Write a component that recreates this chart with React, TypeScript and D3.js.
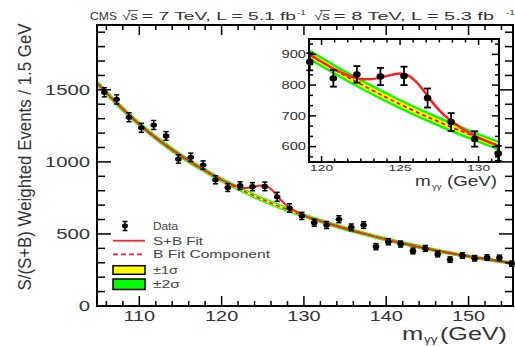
import React from 'react';
import * as d3 from 'd3';

// diphoton mass spectrum, 1.5 GeV bins
const massBins = [105.75, 107.25, 108.75, 110.25, 111.75, 113.25, 114.75, 116.25, 117.75, 119.25, 120.75, 122.25, 123.75, 125.25, 126.75, 128.25, 129.75, 131.25, 132.75, 134.25, 135.75, 137.25, 138.75, 140.25, 141.75, 143.25, 144.75, 146.25, 147.75, 149.25, 150.75, 152.25, 153.75, 155.25];
const events = [1483, 1434, 1310, 1237, 1256, 1180, 1020, 1032, 978, 876, 822, 835, 828, 830, 758, 680, 625, 578, 562, 602, 546, 562, 412, 446, 430, 382, 400, 361, 322, 350, 331, 336, 334, 294];
const eventErr = [32, 32, 31, 31, 31, 30, 29, 29, 29, 28, 27, 27, 28, 30, 31, 29, 25, 24, 24, 24, 23, 23, 21, 21, 21, 20, 20, 20, 19, 19, 19, 19, 19, 18];

// fit curves
const fitMass = [105, 107.5, 110, 112.5, 115, 117.5, 120, 122.5, 125, 127.5, 130, 132.5, 135, 137.5, 140, 142.5, 145, 147.5, 150, 152.5, 155, 155.5];
const bkgFit = [1540, 1393, 1262, 1146, 1045, 955, 875, 803, 738, 680, 628, 581, 538, 499, 462, 429, 398, 370, 345, 322, 300, 296];
const bkgSigma = [11, 10.5, 10, 9.8, 9.5, 9.2, 9, 8.8, 8.6, 8.4, 8.2, 8, 7.8, 7.6, 7.4, 7.2, 7, 6.8, 6.6, 6.4, 6.2, 6.2];
const sbMass = [105, 107.5, 110, 112.5, 115, 117.5, 120, 121, 122, 122.5, 123, 123.5, 124, 124.5, 125, 125.5, 126, 126.5, 127, 127.5, 128, 128.5, 129, 130, 132.5, 135, 137.5, 140, 142.5, 145, 147.5, 150, 152.5, 155, 155.5];
const sbFit = [1540, 1393, 1262, 1146, 1045, 955, 876, 847, 826, 820, 819, 822, 828, 834, 838, 832, 812, 782, 748, 718, 694, 675, 657, 629, 581, 538, 499, 462, 429, 398, 370, 345, 322, 300, 296];

const xTickLabels = [110, 120, 130, 140, 150];
const yTickLabels = [0, 500, 1000, 1500];
const insetXTickLabels = [120, 125, 130];
const insetYTickLabels = [600, 700, 800, 900];

const FONT = '"Liberation Sans", Arial, Helvetica, sans-serif';
const TXT = '#333';

const frame = { left: 97, right: 513, top: 25, bottom: 306 };
const inset = { left: 309, right: 499, top: 39, bottom: 162 };

const x = d3.scaleLinear().domain([104.86, 155.4]).range([frame.left, frame.right]);
const y = d3.scaleLinear().domain([0, 1950]).range([frame.bottom, frame.top]);
const xi = d3.scaleLinear().domain([119.2, 131.3]).range([inset.left, inset.right]);
const yi = d3.scaleLinear().domain([550, 950]).range([inset.bottom, inset.top]);

type Scale = d3.ScaleLinear<number, number>;

function Curves({ xs, ys, clip, sbWidth, bWidth }: { xs: Scale; ys: Scale; clip: string; sbWidth: number; bWidth: number }) {
  const pts = fitMass.map((m, i) => ({ m, b: bkgFit[i], s: bkgSigma[i] }));
  const band = (k: number) =>
    d3.area<{ m: number; b: number; s: number }>()
      .x(d => xs(d.m))
      .y0(d => ys(d.b - k * d.s))
      .y1(d => ys(d.b + k * d.s))
      .curve(d3.curveMonotoneX)(pts) || '';
  const bLine = d3.line<{ m: number; b: number }>()
    .x(d => xs(d.m)).y(d => ys(d.b))
    .curve(d3.curveMonotoneX)(pts) || '';
  const sbLine = d3.line<number>()
    .x(m => xs(m)).y((_, i) => ys(sbFit[i]))
    .curve(d3.curveMonotoneX)(sbMass) || '';
  return (
    <g clipPath={`url(#${clip})`}>
      <path d={band(2)} fill="#00ff00" />
      <path d={band(1)} fill="#ffff00" />
      <path d={bLine} fill="none" stroke="#ff0000" strokeWidth={bWidth} strokeDasharray="4,3" />
      <path d={sbLine} fill="none" stroke="#ff2020" strokeWidth={sbWidth} />
    </g>
  );
}

function DataPoints({ xs, ys, lo, hi, rx, ry, cap, sw }: { xs: Scale; ys: Scale; lo: number; hi: number; rx: number; ry: number; cap: number; sw: number }) {
  return (
    <g>
      {massBins.map((m, i) => {
        if (m < lo || m > hi) return null;
        const cx = xs(m);
        const cy = ys(events[i]);
        const t = ys(events[i] + eventErr[i]);
        const b = ys(events[i] - eventErr[i]);
        return (
          <g key={i} stroke="#000" strokeWidth={sw}>
            <line x1={cx} x2={cx} y1={t} y2={b} />
            <line x1={cx - cap} x2={cx + cap} y1={t} y2={t} />
            <line x1={cx - cap} x2={cx + cap} y1={b} y2={b} />
            <ellipse cx={cx} cy={cy} rx={rx} ry={ry} fill="#000" stroke="none" />
          </g>
        );
      })}
    </g>
  );
}

function Frame({ xs, ys, box, xMajor, xMinor, yMajor, yMinor, xLen, yLen, sw }: {
  xs: Scale; ys: Scale; box: { left: number; right: number; top: number; bottom: number };
  xMajor: number[]; xMinor: number[]; yMajor: number[]; yMinor: number[];
  xLen: [number, number]; yLen: [number, number]; sw: number;
}) {
  const lines: JSX.Element[] = [];
  const addX = (v: number, len: number, k: string) => {
    const px = xs(v);
    lines.push(<line key={'xb' + k} x1={px} x2={px} y1={box.bottom} y2={box.bottom - len} />);
    lines.push(<line key={'xt' + k} x1={px} x2={px} y1={box.top} y2={box.top + len} />);
  };
  const addY = (v: number, len: number, k: string) => {
    const py = ys(v);
    lines.push(<line key={'yl' + k} x1={box.left} x2={box.left + len} y1={py} y2={py} />);
    lines.push(<line key={'yr' + k} x1={box.right} x2={box.right - len} y1={py} y2={py} />);
  };
  xMajor.forEach((v, i) => addX(v, xLen[0], 'M' + i));
  xMinor.forEach((v, i) => addX(v, xLen[1], 'm' + i));
  yMajor.forEach((v, i) => addY(v, yLen[0], 'M' + i));
  yMinor.forEach((v, i) => addY(v, yLen[1], 'm' + i));
  return (
    <g stroke="#000" strokeWidth={sw * 0.75}>
      {lines}
      <rect x={box.left} y={box.top} width={box.right - box.left} height={box.bottom - box.top} fill="none" strokeWidth={sw} />
    </g>
  );
}

function SText({ x0, y0, sx, size, anchor = 'start', children }: { x0: number; y0: number; sx: number; size: number; anchor?: string; children: React.ReactNode }) {
  return (
    <text transform={`translate(${x0},${y0}) scale(${sx},1)`} fontSize={size} textAnchor={anchor} fill={TXT} fontFamily={FONT}>
      {children}
    </text>
  );
}

export default function App() {
  const inRange = (s: Scale) => (v: number) => v >= s.domain()[0] - 1e-6 && v <= s.domain()[1] + 1e-6;
  const xMinor = x.ticks(25).filter(v => !xTickLabels.includes(v));
  const yMinor = y.ticks(20).filter(v => !yTickLabels.includes(v));
  const yiMinor = d3.range(550 + 50 / 3, 950, 100 / 3).filter(v => !insetYTickLabels.some(t => Math.abs(t - v) < 1));
  const xiMinor = d3.range(120 - 5 / 6, 131.3, 5 / 6).filter(inRange(xi)).filter(v => !insetXTickLabels.some(t => Math.abs(t - v) < 0.1));

  const legendX0 = 113;
  const legendX1 = 145;
  const legendTx = 153;

  return (
    <svg width={515} height={346} style={{ position: 'absolute', left: 0, top: 0, background: '#fff' }}>
      <defs>
        <clipPath id="mainClip">
          <rect x={frame.left} y={frame.top} width={frame.right - frame.left} height={frame.bottom - frame.top} />
        </clipPath>
        <clipPath id="insetClip">
          <rect x={inset.left} y={inset.top} width={inset.right - inset.left} height={inset.bottom - inset.top} />
        </clipPath>
      </defs>
      <rect width={515} height={346} fill="#fff" />

      {/* title */}
      <g fontFamily={FONT} fill={TXT} fontSize={11}>
        <text x={90} y={19.5} textLength={27} lengthAdjust="spacingAndGlyphs">CMS</text>
        <text x={122} y={19.5} textLength={16} lengthAdjust="spacingAndGlyphs">√s</text>
        <line x1={128} x2={138} y1={10.5} y2={10.5} stroke={TXT} strokeWidth={0.8} />
        <text x={142} y={19.5} textLength={154} lengthAdjust="spacingAndGlyphs">= 7 TeV, L = 5.1 fb</text>
        <text x={297} y={14.5} fontSize={8} textLength={9} lengthAdjust="spacingAndGlyphs">-1</text>
        <text x={314} y={19.5} textLength={16} lengthAdjust="spacingAndGlyphs">√s</text>
        <line x1={320} x2={330} y1={10.5} y2={10.5} stroke={TXT} strokeWidth={0.8} />
        <text x={334} y={19.5} textLength={160} lengthAdjust="spacingAndGlyphs">= 8 TeV, L = 5.3 fb</text>
        <text x={506} y={14.5} fontSize={8} textLength={9} lengthAdjust="spacingAndGlyphs">-1</text>
      </g>

      {/* main plot */}
      <Curves xs={x} ys={y} clip="mainClip" sbWidth={2} bWidth={1.5} />
      <DataPoints xs={x} ys={y} lo={104} hi={156} rx={3.3} ry={2.6} cap={2.6} sw={1.5} />
      <Frame xs={x} ys={y} box={frame} xMajor={xTickLabels} xMinor={xMinor} yMajor={yTickLabels} yMinor={yMinor}
        xLen={[10, 5]} yLen={[14, 8]} sw={2} />

      {yTickLabels.map(v => (
        <SText key={'yl' + v} x0={90} y0={y(v) + 5} sx={1.45} size={14} anchor="end">{v}</SText>
      ))}
      {xTickLabels.map(v => (
        <SText key={'xl' + v} x0={x(v)} y0={321} sx={1.42} size={14} anchor="middle">{v}</SText>
      ))}

      {/* axis titles */}
      <text transform="translate(31,157) scale(1.15,1) rotate(-90)" fontSize={16} textAnchor="middle" fill={TXT}
        fontFamily={FONT} textLength={267} lengthAdjust="spacingAndGlyphs">S/(S+B) Weighted Events / 1.5 GeV</text>
      <SText x0={402} y0={340} sx={1.42} size={18}>m</SText>
      <SText x0={424} y0={343} sx={1.35} size={10}>γγ</SText>
      <text x={440} y={340} fontSize={18} fill={TXT} fontFamily={FONT} textLength={67} lengthAdjust="spacingAndGlyphs">(GeV)</text>

      {/* legend */}
      <g>
        <line x1={125} x2={125} y1={221.5} y2={230.5} stroke="#000" strokeWidth={1.5} />
        <line x1={122.5} x2={127.5} y1={221.5} y2={221.5} stroke="#000" strokeWidth={1.5} />
        <line x1={122.5} x2={127.5} y1={230.5} y2={230.5} stroke="#000" strokeWidth={1.5} />
        <ellipse cx={125} cy={226} rx={3} ry={2.4} fill="#000" />
        <line x1={legendX0} x2={legendX1} y1={240.7} y2={240.7} stroke="#ff2020" strokeWidth={1.8} />
        <line x1={legendX0} x2={legendX1} y1={254.3} y2={254.3} stroke="#ff2020" strokeWidth={1.8} strokeDasharray="5,3" />
        <rect x={legendX0} y={265.7} width={legendX1 - legendX0} height={8.6} fill="#ffff00" stroke="#000" strokeWidth={1.5} />
        <rect x={legendX0} y={279} width={legendX1 - legendX0} height={10.5} fill="#00ff00" stroke="#000" strokeWidth={1.5} />
        <g fontFamily={FONT} fontSize={11} fill="#444">
          <text x={legendTx} y={229.5} textLength={25} lengthAdjust="spacingAndGlyphs">Data</text>
          <text x={legendTx} y={244.5} textLength={50} lengthAdjust="spacingAndGlyphs">S+B Fit</text>
          <text x={legendTx} y={258} textLength={117} lengthAdjust="spacingAndGlyphs">B Fit Component</text>
          <text x={legendTx} y={274} textLength={25} lengthAdjust="spacingAndGlyphs">±1σ</text>
          <text x={legendTx} y={288} textLength={27} lengthAdjust="spacingAndGlyphs">±2σ</text>
        </g>
      </g>

      {/* inset */}
      <rect x={inset.left} y={inset.top} width={inset.right - inset.left} height={inset.bottom - inset.top} fill="#fff" />
      <Curves xs={xi} ys={yi} clip="insetClip" sbWidth={2.5} bWidth={1.8} />
      <Frame xs={xi} ys={yi} box={inset} xMajor={insetXTickLabels} xMinor={xiMinor} yMajor={insetYTickLabels} yMinor={yiMinor}
        xLen={[6, 3.5]} yLen={[7, 4]} sw={2} />
      <DataPoints xs={xi} ys={yi} lo={119} hi={131.5} rx={3.8} ry={3.2} cap={3.5} sw={1.8} />
      {insetYTickLabels.map(v => (
        <SText key={'iy' + v} x0={306} y0={yi(v) + 3.8} sx={1.4} size={10.5} anchor="end">{v}</SText>
      ))}
      {insetXTickLabels.map(v => (
        <SText key={'ix' + v} x0={xi(v)} y0={170.5} sx={1.45} size={9.5} anchor="middle">{v}</SText>
      ))}
      <SText x0={415} y0={186} sx={1.35} size={14}>m</SText>
      <SText x0={432} y0={189} sx={1.2} size={8}>γγ</SText>
      <text x={447} y={186} fontSize={14} fill={TXT} fontFamily={FONT} textLength={50} lengthAdjust="spacingAndGlyphs">(GeV)</text>
    </svg>
  );
}
